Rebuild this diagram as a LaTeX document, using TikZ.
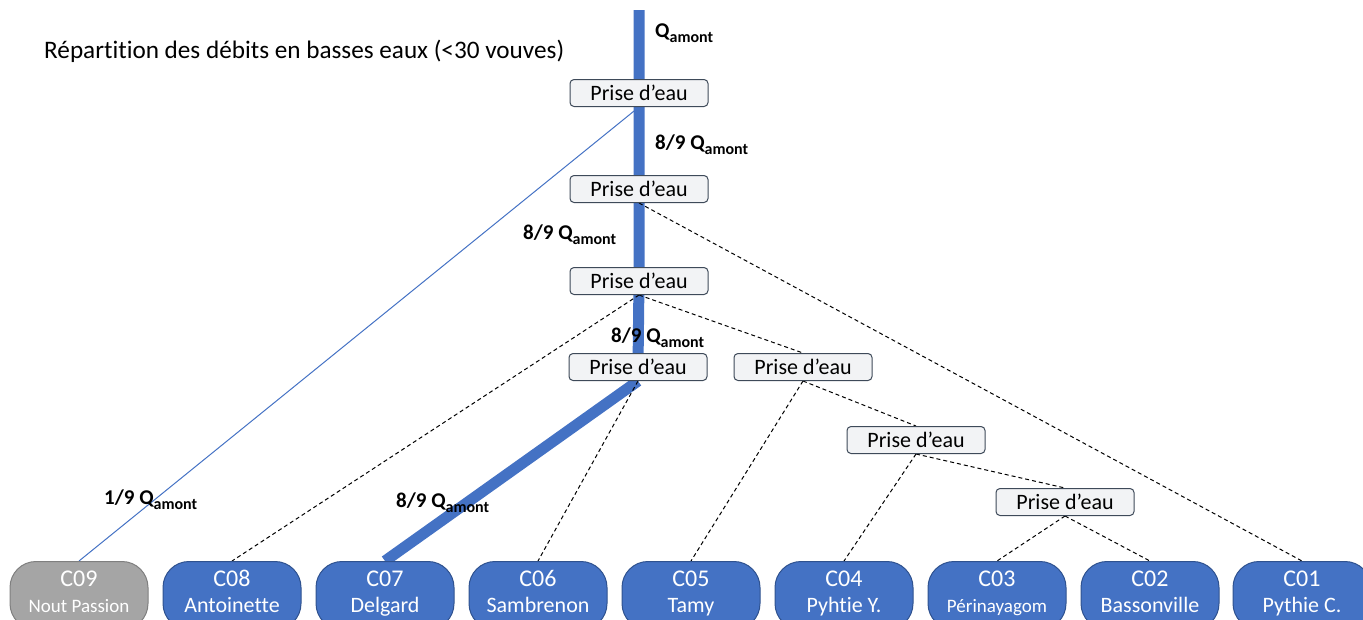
\documentclass[tikz,border=0pt]{standalone}
\usepackage{fontspec}
\setmainfont[Ligatures=NoCommon]{Carlito}
\usetikzlibrary{backgrounds}
\definecolor{bleu}{HTML}{4472C4}
\definecolor{bleubord}{HTML}{2F528F}
\definecolor{grisfond}{HTML}{A5A5A5}
\definecolor{grisbord}{HTML}{7F7F7F}
\definecolor{prisefond}{HTML}{F2F3F5}
\definecolor{prisebord}{HTML}{3E4A59}
\newcommand{\qam}{Q\raisebox{-5pt}{\fontsize{16}{16}\selectfont amont}}

\begin{document}
\begin{tikzpicture}[x=1pt,y=-1pt,
  prise/.style={draw=prisebord, fill=prisefond, line width=1pt, rounded corners=4pt,
    minimum width=138pt, minimum height=27pt, inner sep=0pt, font=\fontsize{22}{22}\selectfont},
  canal/.style={draw=bleubord, fill=bleu, text=white, line width=1pt, rounded corners=26pt,
    minimum width=138pt, minimum height=68pt, inner sep=0pt, anchor=north, align=center,
    font=\fontsize{22}{26}\selectfont},
  debit/.style={font=\bfseries\fontsize{21}{21}\selectfont, anchor=west, inner sep=0pt},
  tronc/.style={bleu, line width=11pt},
  derive/.style={black, line width=1pt, dash pattern=on 4pt off 3pt}]
\useasboundingbox (0,0) rectangle (1363,619);
\node[anchor=west, inner sep=0pt, font=\fontsize{25.2}{25.2}\selectfont] (titre) at (44,51)
  {Répartition des débits en basses eaux (<30 vouves)};
\coordinate (source) at (639,10);
\node[prise] (p1) at (639,93) {Prise d’eau};
\node[prise] (p2) at (639,189) {Prise d’eau};
\node[prise] (p3) at (639,281) {Prise d’eau};
\node[prise] (p4) at (638,367) {Prise d’eau};
\node[prise] (p5) at (803,367) {Prise d’eau};
\node[prise] (p6) at (916,440) {Prise d’eau};
\node[prise] (p7) at (1065,502) {Prise d’eau};
\node[canal, draw=grisbord, fill=grisfond] (c09) at (79,561)
  {{\fontsize{24}{24}\selectfont C09}\\{\fontsize{19}{19}\selectfont Nout Passion}\strut};
\node[canal] (c08) at (232,561) {{\fontsize{24}{24}\selectfont C08}\\Antoinette\strut};
\node[canal] (c07) at (385,561) {{\fontsize{24}{24}\selectfont C07}\\Delgard\strut};
\node[canal] (c06) at (538,561) {{\fontsize{24}{24}\selectfont C06}\\Sambrenon\strut};
\node[canal] (c05) at (691,561) {{\fontsize{24}{24}\selectfont C05}\\Tamy\strut};
\node[canal] (c04) at (844,561) {{\fontsize{24}{24}\selectfont C04}\\Pyhtie Y.\strut};
\node[canal] (c03) at (997,561)
  {{\fontsize{24}{24}\selectfont C03}\\{\fontsize{19}{19}\selectfont Périnayagom}\strut};
\node[canal] (c02) at (1150,561) {{\fontsize{24}{24}\selectfont C02}\\Bassonville\strut};
\node[canal] (c01) at (1302,561) {{\fontsize{24}{24}\selectfont C01}\\Pythie C.\strut};
\node[debit] (d0) at (655,33) {\qam};
\node[debit] (d1) at (655,145) {8/9 \qam};
\node[debit] (d2) at (523,235) {8/9 \qam};
\node[debit] (d3) at (611,338) {8/9 \qam};
\node[debit] (d4) at (104,500) {1/9 \qam};
\node[debit] (d5) at (396,503) {8/9 \qam};
\begin{scope}[on background layer]
\draw[tronc] (source) -- (p1.center) -- (p2.center) -- (p3.center) -- (p4.center);
\draw[tronc] (p4.south) -- (c07.north);
\draw[bleu, line width=1pt] (p1.south) -- (c09.north);
\draw[derive] (p2.south) -- (c01.north);
\draw[derive] (p3.south) -- (c08.north);
\draw[derive] (p3.south) -- (p5.north);
\draw[derive] (p4.south) -- (c06.north);
\draw[derive] (p5.south) -- (c05.north);
\draw[derive] (p5.south) -- (p6.north);
\draw[derive] (p6.south) -- (c04.north);
\draw[derive] (p6.south) -- (p7.north);
\draw[derive] (p7.south) -- (c03.north);
\draw[derive] (p7.south) -- (c02.north);
\end{scope}
\end{tikzpicture}
\end{document}
